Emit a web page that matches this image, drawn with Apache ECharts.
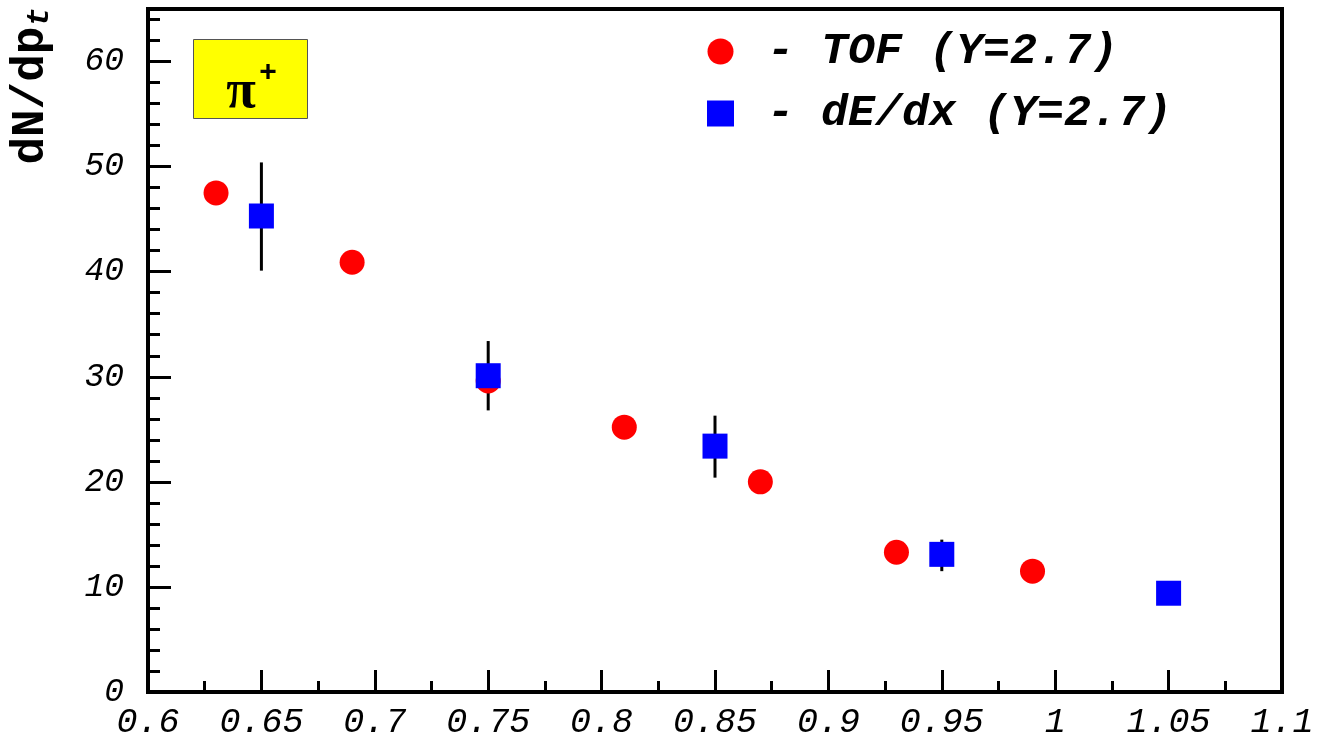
<!DOCTYPE html>
<html>
<head>
<meta charset="utf-8">
<script src="https://cdn.jsdelivr.net/npm/echarts@6/dist/echarts.min.js"></script>
<style>html,body{margin:0;padding:0;background:#fff}#c{width:1324px;height:746px}</style>
</head>
<body>
<div id="c"></div>
<script>
const xTicks = [0.6, 0.65, 0.7, 0.75, 0.8, 0.85, 0.9, 0.95, 1, 1.05, 1.1];
const yTicks = [0, 10, 20, 30, 40, 50, 60];
const tofX = [0.63, 0.69, 0.75, 0.81, 0.87, 0.93, 0.99];
const tofY = [47.5, 40.9, 29.6, 25.2, 20.0, 13.3, 11.5];
const dedxX = [0.65, 0.75, 0.85, 0.95, 1.05];
const dedxY = [45.3, 30.1, 23.4, 13.1, 9.4];
const dedxLo = [40.1, 26.8, 20.4, 11.5, 9.0];
const dedxHi = [50.4, 33.4, 26.3, 14.5, 9.8];
const tofName = 'TOF (Y=2.7)';
const dedxName = 'dE/dx (Y=2.7)';

const FONT = '"Liberation Mono", monospace';
const chart = echarts.init(document.getElementById('c'));
chart.setOption({
  animation: false,
  backgroundColor: '#fff',
  grid: { left: 148, right: 42, top: 9, bottom: 54, show: true, borderColor: '#000', borderWidth: 4, backgroundColor: 'transparent' },
  xAxis: {
    type: 'value', min: 0.6, max: 1.1, interval: 0.05,
    axisLine: { show: true, onZero: false, lineStyle: { color: '#000', width: 4 } },
    axisTick: { show: true, inside: true, length: 22, lineStyle: { color: '#000', width: 3 } },
    minorTick: { show: true, splitNumber: 2, length: 11, lineStyle: { color: '#000', width: 3 } },
    splitLine: { show: false },
    axisLabel: { margin: 13, color: '#000', fontFamily: FONT, fontStyle: 'italic', fontWeight: 'normal', fontSize: 35,
      formatter: v => { const t = xTicks.find(a => Math.abs(a - v) < 1e-6); return t === undefined ? '' : String(t); } }
  },
  yAxis: {
    type: 'value', min: 0, max: 65, interval: 10,
    axisLine: { show: true, lineStyle: { color: '#000', width: 4 } },
    axisTick: { show: true, inside: true, length: 23, lineStyle: { color: '#000', width: 3 } },
    minorTick: { show: true, splitNumber: 5, length: 12, lineStyle: { color: '#000', width: 3 } },
    splitLine: { show: false },
    axisLabel: { margin: 24, color: '#000', fontFamily: FONT, fontStyle: 'italic', fontWeight: 'normal', fontSize: 33, showMaxLabel: false,
      formatter: v => yTicks.indexOf(v) >= 0 ? String(v) : '' }
  },
  legend: {
    left: 702, top: 24, orient: 'vertical', itemGap: 17, itemWidth: 27, itemHeight: 26,
    data: [{ name: tofName, icon: 'circle' }, { name: dedxName, icon: 'rect' }],
    formatter: n => '- ' + n,
    textStyle: { color: '#000', fontFamily: FONT, fontStyle: 'italic', fontWeight: 'bold', fontSize: 45, padding: [0, 0, 0, 28] }
  },
  graphic: [
    { type: 'rect', left: 193, top: 39, shape: { width: 114, height: 79 }, style: { fill: '#ffff00', stroke: '#555', lineWidth: 1 }, z: 10 },
    { type: 'text', x: 241, y: 93, z: 11, style: { text: 'π', font: 'bold 54px "Liberation Serif", serif', fill: '#000', align: 'center', verticalAlign: 'middle' } },
    { type: 'text', x: 268, y: 73, z: 11, style: { text: '+', font: 'bold 30px "Liberation Sans", sans-serif', fill: '#000', align: 'center', verticalAlign: 'middle' } },
    { type: 'text', x: 31, y: 86, rotation: Math.PI / 2, z: 11, style: { text: '{a|dN/dp}{b|t}', rich: { a: { fontFamily: FONT, fontWeight: 'bold', fontSize: 46, fill: '#000' }, b: { fontFamily: FONT, fontStyle: 'italic', fontWeight: 'bold', fontSize: 32, fill: '#000', padding: [18,0,0,0] } }, align: 'center', verticalAlign: 'middle' } }
  ],
  series: [
    {
      type: 'custom', name: 'err', z: 2,
      data: dedxX.map((x, i) => [x, dedxLo[i], dedxHi[i]]),
      renderItem: (params, api) => {
        const a = api.coord([api.value(0), api.value(1)]);
        const b = api.coord([api.value(0), api.value(2)]);
        return { type: 'line', shape: { x1: a[0], y1: a[1], x2: b[0], y2: b[1] }, style: { stroke: '#000', lineWidth: 3 } };
      }
    },
    { type: 'scatter', name: tofName, symbol: 'circle', symbolSize: 25, z: 3, itemStyle: { color: '#ff0000', opacity: 1 }, data: tofX.map((x, i) => [x, tofY[i]]) },
    { type: 'scatter', name: dedxName, symbol: 'rect', symbolSize: 25, z: 4, itemStyle: { color: '#0000ff', opacity: 1 }, data: dedxX.map((x, i) => [x, dedxY[i]]) }
  ]
});
</script>
</body>
</html>
